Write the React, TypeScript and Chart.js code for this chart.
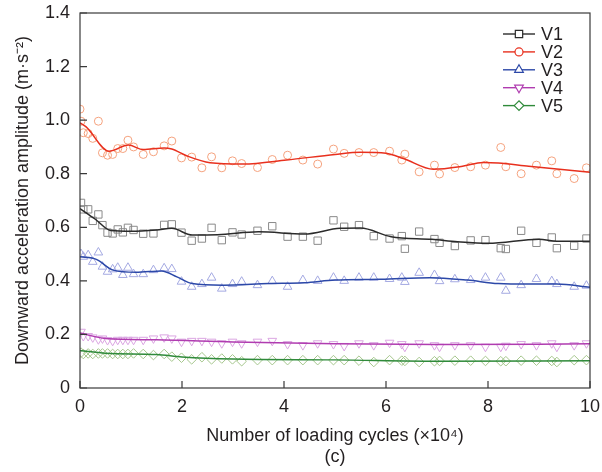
import React, { useEffect, useRef } from 'react';
import { Chart, registerables } from 'chart.js';
Chart.register(...registerables);

// Number of loading cycles (x10^4)
const cycles = [0, 0.02, 0.065, 0.16, 0.25, 0.36, 0.44, 0.54, 0.64, 0.74, 0.84, 0.94, 1.05, 1.24, 1.44, 1.65, 1.8, 1.99, 2.19, 2.39, 2.58, 2.78, 2.99, 3.17, 3.48, 3.77, 4.07, 4.37, 4.66, 4.97, 5.18, 5.47, 5.76, 6.07, 6.31, 6.37, 6.65, 6.95, 7.05, 7.35, 7.66, 7.95, 8.25, 8.35, 8.65, 8.95, 9.25, 9.35, 9.69, 9.93];

const v1 = [null, 0.691, 0.667, 0.667, 0.624, 0.648, 0.608, 0.58, 0.577, 0.592, 0.581, 0.598, 0.59, 0.576, 0.577, 0.609, 0.611, 0.58, 0.55, 0.558, 0.598, 0.552, 0.581, 0.573, 0.587, 0.604, 0.565, 0.565, 0.55, 0.626, 0.602, 0.608, 0.567, 0.558, 0.567, 0.52, 0.584, 0.556, 0.542, 0.53, 0.551, 0.552, 0.522, 0.519, 0.587, 0.542, 0.562, 0.522, 0.531, 0.558];
const v2 = [1.041, 0.996, 0.953, 0.95, 0.932, 0.996, 0.878, 0.869, 0.872, 0.894, 0.894, 0.925, 0.9, 0.872, 0.882, 0.904, 0.922, 0.859, 0.862, 0.822, 0.863, 0.822, 0.848, 0.838, 0.823, 0.853, 0.869, 0.851, 0.836, 0.892, 0.876, 0.879, 0.879, 0.884, 0.851, 0.873, 0.807, 0.832, 0.799, 0.823, 0.826, 0.832, 0.898, 0.826, 0.8, 0.832, 0.848, 0.8, 0.782, 0.822];
const v3 = [null, 0.5, 0.49, 0.496, 0.471, 0.506, 0.453, 0.434, 0.443, 0.449, 0.422, 0.449, 0.425, 0.425, 0.44, 0.447, 0.444, 0.397, 0.378, 0.388, 0.412, 0.371, 0.388, 0.397, 0.384, 0.399, 0.378, 0.403, 0.4, 0.412, 0.4, 0.412, 0.412, 0.407, 0.412, 0.396, 0.43, 0.422, 0.399, 0.406, 0.403, 0.412, 0.412, 0.363, 0.384, 0.407, 0.399, 0.388, 0.378, 0.382];
const v4 = [null, 0.21, 0.194, 0.194, 0.189, 0.182, 0.185, 0.179, 0.176, 0.18, 0.18, 0.18, 0.18, 0.18, 0.185, 0.189, 0.185, 0.173, 0.176, 0.176, 0.173, 0.167, 0.173, 0.167, 0.173, 0.176, 0.164, 0.16, 0.167, 0.164, 0.157, 0.167, 0.16, 0.169, 0.164, 0.154, 0.167, 0.16, 0.154, 0.16, 0.16, 0.154, 0.154, 0.158, 0.164, 0.16, 0.167, 0.154, 0.16, 0.167];
const v5 = [null, 0.132, 0.127, 0.129, 0.127, 0.129, 0.129, 0.129, 0.127, 0.127, 0.127, 0.127, 0.129, 0.127, 0.123, 0.127, 0.117, 0.113, 0.107, 0.115, 0.107, 0.11, 0.107, 0.1, 0.104, 0.104, 0.104, 0.104, 0.104, 0.104, 0.104, 0.102, 0.097, 0.104, 0.102, 0.101, 0.097, 0.1, 0.101, 0.102, 0.102, 0.101, 0.1, 0.1, 0.102, 0.102, 0.101, 0.097, 0.104, 0.104];

// Smoothed trend curves
const v1FitX = [0, 0.3, 0.6, 1, 1.5, 1.8, 2.2, 2.7, 3.5, 4.4, 5.1, 5.5, 6.1, 6.9, 7.4, 8.0, 9.0, 9.35, 10];
const v1Fit = [0.67, 0.63, 0.588, 0.585, 0.59, 0.596, 0.571, 0.572, 0.583, 0.575, 0.596, 0.597, 0.565, 0.555, 0.546, 0.54, 0.555, 0.548, 0.548];
const v2FitX = [0, 0.12, 0.57, 0.95, 1.24, 1.65, 1.8, 2.09, 2.55, 3.2, 4.05, 5.0, 5.5, 6.0, 6.34, 6.93, 7.5, 7.9, 8.2, 8.8, 9.4, 10];
const v2Fit = [0.99, 0.975, 0.884, 0.907, 0.89, 0.896, 0.892, 0.867, 0.841, 0.836, 0.851, 0.872, 0.88, 0.876, 0.857, 0.817, 0.828, 0.842, 0.84, 0.828, 0.817, 0.805];
const v3FitX = [0, 0.32, 0.65, 1.1, 1.6, 1.9, 2.2, 2.8, 3.7, 4.4, 5.0, 5.9, 6.86, 7.6, 8.2, 8.8, 9.35, 10];
const v3Fit = [0.49, 0.48, 0.44, 0.432, 0.437, 0.415, 0.39, 0.384, 0.39, 0.393, 0.403, 0.406, 0.412, 0.403, 0.39, 0.388, 0.388, 0.376];
const v4FitX = [0, 0.5, 1.5, 3, 5, 7, 10];
const v4Fit = [0.205, 0.185, 0.18, 0.172, 0.165, 0.162, 0.165];
const v5FitX = [0, 0.5, 1.5, 2, 3, 5, 7, 10];
const v5Fit = [0.14, 0.13, 0.125, 0.116, 0.108, 0.105, 0.1, 0.102];

const seriesNames = ['V1', 'V2', 'V3', 'V4', 'V5'];
const xTickValues = [0, 2, 4, 6, 8, 10];
const yTickValues = [0, 0.2, 0.4, 0.6, 0.8, 1.0, 1.2, 1.4];

const FONT = '"Liberation Sans", Arial, Helvetica, sans-serif';
const TEXT = '#231f20';

const styles = [
  { line: '#2b2b2b', marker: '#8a8a8a', shape: 'rect', r: 5.2, rot: 0 },
  { line: '#e8301e', marker: '#f5a27e', shape: 'circle', r: 4, rot: 0 },
  { line: '#2c48a8', marker: '#a4a9e2', shape: 'triangle', r: 5, rot: 0 },
  { line: '#b03cb0', marker: '#dba6e2', shape: 'triangle', r: 5, rot: 180 },
  { line: '#2f8a3a', marker: '#a5c68c', shape: 'rectRot', r: 4.8, rot: 0 },
];

const pts = [v1, v2, v3, v4, v5];
const fitsX = [v1FitX, v2FitX, v3FitX, v4FitX, v5FitX];
const fitsY = [v1Fit, v2Fit, v3Fit, v4Fit, v5Fit];

function drawMarker(ctx: CanvasRenderingContext2D, shape: string, rot: number, x: number, y: number, r: number) {
  ctx.beginPath();
  if (shape === 'circle') {
    ctx.arc(x, y, r, 0, Math.PI * 2);
  } else if (shape === 'rect') {
    const s = r * Math.SQRT1_2;
    ctx.rect(x - s, y - s, 2 * s, 2 * s);
  } else if (shape === 'rectRot') {
    ctx.moveTo(x - r, y);
    ctx.lineTo(x, y - r);
    ctx.lineTo(x + r, y);
    ctx.lineTo(x, y + r);
    ctx.closePath();
  } else if (shape === 'triangle') {
    const sgn = rot === 180 ? -1 : 1;
    const w = r * Math.sqrt(3) / 2;
    ctx.moveTo(x, y - sgn * r);
    ctx.lineTo(x + w, y + sgn * r * 0.5);
    ctx.lineTo(x - w, y + sgn * r * 0.5);
    ctx.closePath();
  }
  ctx.fillStyle = '#ffffff';
  ctx.fill();
  ctx.stroke();
}

const framePlugin = {
  id: 'frame',
  afterDraw(chart: any) {
    const { ctx, chartArea } = chart;
    const { left, right, top, bottom } = chartArea;
    const xs = chart.scales.x;
    const ys = chart.scales.y;
    ctx.save();
    ctx.strokeStyle = '#3a3a3a';
    ctx.lineWidth = 1.2;
    ctx.strokeRect(left, top, right - left, bottom - top);
    ctx.beginPath();
    xTickValues.forEach((v) => {
      const px = xs.getPixelForValue(v);
      ctx.moveTo(px, bottom);
      ctx.lineTo(px, bottom - 7);
    });
    yTickValues.forEach((v) => {
      const py = ys.getPixelForValue(v);
      ctx.moveTo(left, py);
      ctx.lineTo(left + 7, py);
    });
    ctx.stroke();

    // legend
    const x0 = 503, x1 = 535, y0 = 34, dy = 17.9;
    ctx.font = `18px ${FONT}`;
    ctx.textBaseline = 'middle';
    ctx.textAlign = 'left';
    seriesNames.forEach((name, i) => {
      const st = styles[i];
      const y = y0 + i * dy;
      ctx.strokeStyle = st.line;
      ctx.lineWidth = 1.4;
      ctx.beginPath();
      ctx.moveTo(x0, y);
      ctx.lineTo(x1, y);
      ctx.stroke();
      ctx.lineWidth = 1.2;
      drawMarker(ctx, st.shape, st.rot, (x0 + x1) / 2, y, st.r);
      ctx.fillStyle = TEXT;
      ctx.fillText(name, 541, y + 1);
    });
    ctx.restore();
  },
};

export default function App() {
  const ref = useRef<HTMLCanvasElement | null>(null);
  useEffect(() => {
    document.body.style.margin = '0';
    const canvas = ref.current;
    if (!canvas) return;
    const datasets: any[] = [];
    seriesNames.forEach((name, i) => {
      const st = styles[i];
      datasets.push({
        type: 'line',
        label: name + ' trend',
        data: fitsX[i].map((x, k) => ({ x, y: fitsY[i][k] })),
        borderColor: st.line,
        borderWidth: 1.5,
        pointRadius: 0,
        fill: false,
        tension: 0.4,
        cubicInterpolationMode: 'monotone',
        order: 0,
      });
      datasets.push({
        type: 'scatter',
        label: name,
        data: cycles
          .map((x, k) => ({ x, y: pts[i][k] }))
          .filter((p) => p.y !== null),
        pointStyle: st.shape,
        rotation: st.rot,
        pointRadius: st.r,
        pointBorderColor: st.marker,
        pointBackgroundColor: 'rgba(255,255,255,0)',
        pointBorderWidth: 1,
        showLine: false,
        order: 1,
      });
    });
    const chart = new Chart(canvas, {
      type: 'scatter',
      data: { datasets },
      options: {
        animation: false,
        responsive: false,
        layout: { padding: { top: 13, right: 12, left: 0, bottom: 0 } },
        plugins: { legend: { display: false }, tooltip: { enabled: false } },
        scales: {
          x: {
            type: 'linear',
            min: 0,
            max: 10,
            afterFit: (s: any) => { s.height = 84; s.paddingLeft = 0; s.paddingRight = 0; },
            afterBuildTicks: (s: any) => { s.ticks = xTickValues.map((v) => ({ value: v })); },
            ticks: {
              font: { family: FONT, size: 18 },
              color: TEXT,
              padding: 8,
              maxRotation: 0,
              callback: (v: any) => String(v),
            },
            grid: { display: false, drawTicks: false },
            border: { display: false },
            title: {
              display: true,
              text: ['Number of loading cycles (×10⁴)', '(c)'],
              font: { family: FONT, size: 18, lineHeight: 21 / 18 },
              color: TEXT,
              padding: { top: 0, bottom: 4 },
            },
          },
          y: {
            type: 'linear',
            min: 0,
            max: 1.4,
            afterFit: (s: any) => { s.width = 80; s.paddingTop = 0; s.paddingBottom = 0; },
            afterBuildTicks: (s: any) => { s.ticks = yTickValues.map((v) => ({ value: v })); },
            ticks: {
              font: { family: FONT, size: 18 },
              color: TEXT,
              padding: 10,
              callback: (v: any) => (Math.abs(v) < 1e-9 ? '0' : Number(v).toFixed(1)),
            },
            grid: { display: false, drawTicks: false },
            border: { display: false },
            title: {
              display: true,
              text: 'Downward acceleration amplitude (m·s⁻²)',
              font: { family: FONT, size: 18, lineHeight: 1.2 },
              color: TEXT,
              padding: { top: 12, bottom: 0 },
            },
          },
        },
      },
      plugins: [framePlugin],
    } as any);
    return () => chart.destroy();
  }, []);
  return (
    <div style={{ position: 'absolute', left: 0, top: 0, width: 602, height: 472, background: '#fff' }}>
      <canvas ref={ref} width={602} height={472} />
    </div>
  );
}
